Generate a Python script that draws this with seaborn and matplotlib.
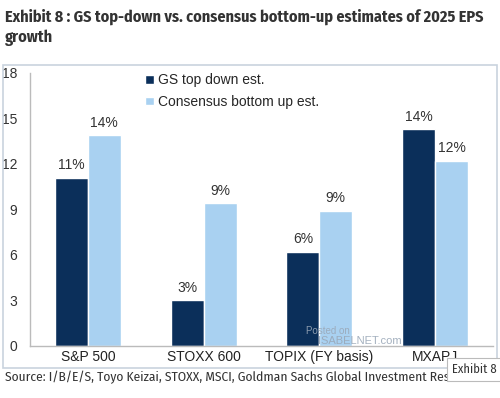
import numpy as np
import pandas as pd
import matplotlib
matplotlib.use("Agg")
import matplotlib.pyplot as plt
from matplotlib.patches import Rectangle
import seaborn as sns

markets = ["S&P 500", "STOXX 600", "TOPIX (FY basis)", "MXAPJ"]
gs_top_down = [11.1, 3.0, 6.2, 14.3]
consensus_bottom_up = [13.9, 9.4, 8.9, 12.2]
series_names = ["GS top down est.", "Consensus bottom up est."]
y_ticks = [0, 3, 6, 9, 12, 15, 18]

df = pd.DataFrame({
    "market": markets * 2,
    "series": [series_names[0]] * 4 + [series_names[1]] * 4,
    "value": gs_top_down + consensus_bottom_up,
})

sns.set_style("white")
plt.rcParams["font.family"] = ["Liberation Sans", "DejaVu Sans"]
cond = ["Fira Sans Condensed", "DejaVu Sans"]

fig = plt.figure(figsize=(5.0, 3.98), dpi=100)
ax = fig.add_axes([0.06, 0.1307, 0.926, 0.686])

# outer frame of the chart
fig.patches.append(Rectangle((0.006, 0.075), 0.988, 0.762, transform=fig.transFigure,
                             fill=False, edgecolor="#c9d3de", lw=1.2))

palette = {series_names[0]: "#0b2f5a", series_names[1]: "#a9d1f1"}
sns.barplot(data=df, x="market", y="value", hue="series", palette=palette,
            width=0.57, saturation=1, ax=ax, legend=True)

for cont in ax.containers:
    ax.bar_label(cont, labels=[f"{round(v):.0f}%" for v in cont.datavalues],
                 padding=4, fontsize=10, color="#333333")

ax.set_ylim(0, 18)
ax.set_xlim(-0.5, 3.5)
ax.set_yticks(y_ticks)
ax.set_yticklabels([str(t) for t in y_ticks], fontsize=10, color="#333333")
ax.tick_params(axis="x", length=0, labelsize=10, labelcolor="#222222", pad=3)
ax.tick_params(axis="y", length=3, color="#bbbbbb", direction="out", pad=6)
# small ticks between categories
ax.set_xticks([0.5, 1.5, 2.5], minor=True)
ax.tick_params(axis="x", which="minor", length=3, color="#bbbbbb")
ax.set_xlabel("")
ax.set_ylabel("")
for s in ["top", "right"]:
    ax.spines[s].set_visible(False)
for s in ["left", "bottom"]:
    ax.spines[s].set_color("#bbbbbb")
    ax.spines[s].set_linewidth(1)

leg = ax.legend(loc="upper left", bbox_to_anchor=(0.222, 1.045), frameon=False,
                fontsize=10, handlelength=0.6, handleheight=0.6,
                handletextpad=0.3, labelspacing=0.55)

fig.text(0.01, 0.958, "Exhibit 8 : GS top-down vs. consensus bottom-up estimates of 2025 EPS",
         fontsize=11.6, fontweight="bold", color="#333333", va="center", family=cond)
fig.text(0.01, 0.905, "growth", fontsize=11.6, fontweight="bold", color="#333333",
         va="center", family=cond)
fig.text(0.01, 0.053, "Source: I/B/E/S, Toyo Keizai, STOXX, MSCI, Goldman Sachs Global Investment Research",
         fontsize=9.7, color="#333333", va="center", family=cond)

# watermark and exhibit tag
fig.text(0.655, 0.16, "Posted on", fontsize=7, color="#9aa8b8", ha="center", alpha=0.9)
fig.text(0.72, 0.135, "ISABELNET.com", fontsize=8, color="#9aa8b8", ha="center", alpha=0.9)
fig.text(0.948, 0.072, "Exhibit 8", fontsize=9, color="#333333", ha="center", va="center",
         family=cond,
         bbox=dict(boxstyle="square,pad=0.4", facecolor="white", edgecolor="#bbbbbb", lw=0.8))

fig.savefig("out.png", dpi=100)
